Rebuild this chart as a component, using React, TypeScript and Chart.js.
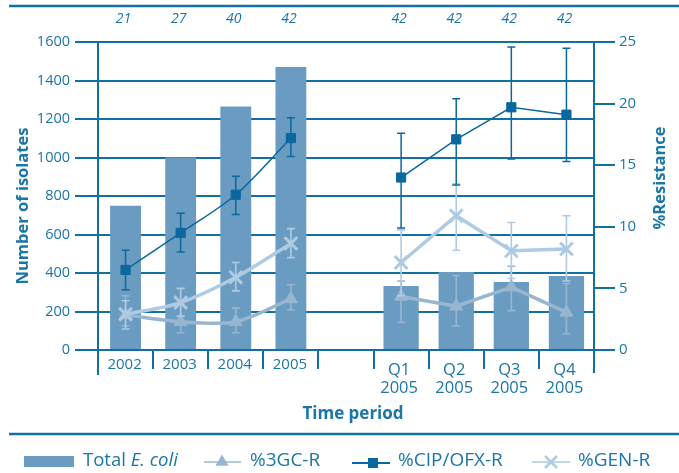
import React, { useEffect, useRef } from "react";
import { Chart, registerables } from "chart.js";

Chart.register(...registerables);

// ---- data ----
const periodLabels: string[][] = [
  ["2002"], ["2003"], ["2004"], ["2005"], [],
  ["Q1", "2005"], ["Q2", "2005"], ["Q3", "2005"], ["Q4", "2005"],
];
const labCounts = ["21", "27", "40", "42", "", "42", "42", "42", "42"];

const totalIsolates = [750, 1000, 1265, 1470, null, 332, 405, 353, 384];

const gcR = [2.85, 2.3, 2.3, 4.15, null, 4.35, 3.55, 5.1, 3.05];
const gcLow = [1.95, 1.4, 1.4, 3.25, null, 2.25, 1.95, 3.2, 1.3];
const gcHigh = [4.4, 3.9, 3.4, 5.3, null, 5.6, 6.05, 6.8, 5.4];

const cipR = [6.5, 9.5, 12.6, 17.2, null, 14.0, 17.1, 19.7, 19.1];
const cipLow = [4.9, 7.95, 11.0, 15.7, null, 9.9, 13.4, 15.5, 15.3];
const cipHigh = [8.1, 11.1, 14.1, 18.85, null, 17.6, 20.4, 24.6, 24.5];

const genR = [2.9, 3.85, 5.9, 8.65, null, 7.1, 10.9, 8.05, 8.2];
const genLow = [1.7, 2.75, 4.8, 7.5, null, 4.4, 8.1, 5.8, 5.6];
const genHigh = [4.0, 5.0, 7.1, 9.85, null, 9.75, 13.5, 10.35, 10.9];

const isolateTicks = { min: 0, max: 1600, step: 200 };
const resistanceTicks = { min: 0, max: 25, step: 5 };

// ---- styling ----
const FONT = "'Open Sans', sans-serif";
const TEXT = "#1a76a8";
const RULE = "#12709f";
const BAR = "#6a9bc0";
const CIP = "#0b689f";
const GEN = "#aecbe3";
const GC = "#98b6cf";

const YEAR_IDX = [0, 1, 2, 3];

// keep only the annual (years) or quarterly part of a series
const part = (arr: (number | null)[], years: boolean) =>
  arr.map((v, i) => (YEAR_IDX.includes(i) === years ? v : null));

const errorSets: Record<string, { low: (number | null)[]; high: (number | null)[]; color: string; width: number }> = {
  "%3GC-R": { low: gcLow, high: gcHigh, color: GC, width: 1.6 },
  "%CIP/OFX-R": { low: cipLow, high: cipHigh, color: CIP, width: 1.5 },
  "%GEN-R": { low: genLow, high: genHigh, color: GEN, width: 1.6 },
};

function drawTriangle(ctx: CanvasRenderingContext2D, x: number, y: number, r: number) {
  ctx.beginPath();
  for (let k = 0; k < 3; k++) {
    const a = (k * 2 * Math.PI) / 3;
    const px = x + Math.sin(a) * r;
    const py = y - Math.cos(a) * r;
    if (k === 0) ctx.moveTo(px, py);
    else ctx.lineTo(px, py);
  }
  ctx.closePath();
  ctx.fill();
}

const decor = {
  id: "decor",
  beforeDatasetDraw(chart: any, args: any) {
    const ds = chart.data.datasets[args.index];
    const err = errorSets[ds.label];
    if (!err) return;
    const xs = chart.scales.x;
    const ys = chart.scales.y1;
    const ctx: CanvasRenderingContext2D = chart.ctx;
    ctx.save();
    ctx.strokeStyle = err.color;
    ctx.lineWidth = err.width;
    err.low.forEach((lo, i) => {
      const hi = err.high[i];
      if (lo == null || hi == null) return;
      const px = xs.getPixelForValue(i);
      const y0 = ys.getPixelForValue(lo);
      const y1 = ys.getPixelForValue(hi);
      ctx.beginPath();
      ctx.moveTo(px, y0);
      ctx.lineTo(px, y1);
      ctx.moveTo(px - 4, y0);
      ctx.lineTo(px + 4, y0);
      ctx.moveTo(px - 4, y1);
      ctx.lineTo(px + 4, y1);
      ctx.stroke();
    });
    ctx.restore();
  },
  afterDraw(chart: any) {
    const ctx: CanvasRenderingContext2D = chart.ctx;
    const xs = chart.scales.x;
    const area = chart.chartArea;
    ctx.save();

    // rules above the chart and above the legend
    ctx.strokeStyle = RULE;
    ctx.lineWidth = 2.5;
    ctx.beginPath();
    ctx.moveTo(9, 6);
    ctx.lineTo(679, 6);
    ctx.moveTo(9, 434);
    ctx.lineTo(679, 434);
    ctx.stroke();

    // outer separators run a little deeper
    ctx.lineWidth = 2;
    ctx.beginPath();
    ctx.moveTo(area.left, area.bottom);
    ctx.lineTo(area.left, area.bottom + 25);
    ctx.moveTo(area.right, area.bottom);
    ctx.lineTo(area.right, area.bottom + 23);
    ctx.stroke();

    ctx.fillStyle = TEXT;
    ctx.textAlign = "center";
    ctx.textBaseline = "middle";

    // number of laboratories above each period
    ctx.font = `italic 14px ${FONT}`;
    labCounts.forEach((t, i) => {
      if (t) ctx.fillText(t, xs.getPixelForValue(i) - 2, 19);
    });

    // period labels
    periodLabels.forEach((lines, i) => {
      const px = xs.getPixelForValue(i);
      if (lines.length === 1) {
        ctx.font = `15px ${FONT}`;
        ctx.fillText(lines[0], px - 1, 365);
      } else if (lines.length === 2) {
        ctx.font = `16.5px ${FONT}`;
        ctx.fillText(lines[0], px - 2, 370);
        ctx.fillText(lines[1], px - 2, 388);
      }
    });

    // axis titles
    ctx.font = `bold 17px ${FONT}`;
    ctx.fillText("Time period", 353, 414);

    ctx.save();
    ctx.translate(23, 206);
    ctx.rotate(-Math.PI / 2);
    ctx.font = `bold 16.5px ${FONT}`;
    ctx.fillText("Number of isolates", 0, 0);
    ctx.restore();

    ctx.save();
    ctx.translate(660, 178);
    ctx.rotate(-Math.PI / 2);
    ctx.font = `bold 16.5px ${FONT}`;
    ctx.fillText("%Resistance", 0, 0);
    ctx.restore();

    // legend
    const ly = 461;
    ctx.textAlign = "left";
    ctx.fillStyle = BAR;
    ctx.fillRect(24, 456, 50, 11);

    ctx.fillStyle = TEXT;
    ctx.font = `18.5px ${FONT}`;
    ctx.fillText("Total ", 83, ly);
    const tw = ctx.measureText("Total ").width;
    ctx.font = `italic 18.5px ${FONT}`;
    ctx.fillText("E. coli", 83 + tw, ly);

    // %3GC-R
    ctx.strokeStyle = GC;
    ctx.lineWidth = 1.5;
    ctx.beginPath();
    ctx.moveTo(204, ly + 1);
    ctx.lineTo(241, ly + 1);
    ctx.stroke();
    ctx.fillStyle = GC;
    drawTriangle(ctx, 222, ly + 1, 7.5);

    // %CIP/OFX-R
    ctx.strokeStyle = CIP;
    ctx.lineWidth = 1.8;
    ctx.beginPath();
    ctx.moveTo(352, ly + 2);
    ctx.lineTo(390, ly + 2);
    ctx.stroke();
    ctx.fillStyle = CIP;
    ctx.fillRect(368, ly - 3, 10, 10);

    // %GEN-R
    ctx.strokeStyle = GEN;
    ctx.lineWidth = 1.5;
    ctx.beginPath();
    ctx.moveTo(532, ly + 1);
    ctx.lineTo(570, ly + 1);
    ctx.stroke();
    ctx.lineWidth = 2.5;
    ctx.beginPath();
    ctx.moveTo(545, ly - 5);
    ctx.lineTo(557, ly + 7);
    ctx.moveTo(557, ly - 5);
    ctx.lineTo(545, ly + 7);
    ctx.stroke();

    ctx.fillStyle = TEXT;
    ctx.font = `19px ${FONT}`;
    ctx.fillText("%3GC-R", 250, ly);
    ctx.fillText("%CIP/OFX-R", 398, ly);
    ctx.fillText("%GEN-R", 578, ly);

    ctx.restore();
  },
};

function lineSet(label: string, values: (number | null)[], years: boolean, color: string, opts: any) {
  return {
    type: "line" as const,
    label: years ? label : label + " Q",
    data: part(values, years),
    yAxisID: "y1",
    borderColor: color,
    backgroundColor: color,
    pointBackgroundColor: color,
    pointBorderColor: color,
    tension: years ? 0.3 : 0,
    spanGaps: false,
    ...opts,
  };
}

export default function App() {
  const ref = useRef<HTMLCanvasElement | null>(null);

  useEffect(() => {
    if (!ref.current) return;
    const gcOpts = { borderWidth: 3.5, pointStyle: "triangle", pointRadius: 7.5, pointBorderWidth: 1, order: 3 };
    const genOpts = { borderWidth: 3.5, pointStyle: "crossRot", pointRadius: 9, pointBorderWidth: 3, order: 2 };
    const cipOpts = { borderWidth: 1.5, pointStyle: "rect", pointRadius: 6.5, pointBorderWidth: 1, order: 1 };

    const chart = new Chart(ref.current, {
      type: "bar",
      data: {
        labels: periodLabels.map((l) => l.join(" ")),
        datasets: [
          {
            type: "bar",
            label: "Total E. coli",
            data: part(totalIsolates, true),
            backgroundColor: BAR,
            yAxisID: "y",
            barPercentage: 0.56,
            categoryPercentage: 1,
            grouped: false,
            order: 11,
          },
          {
            type: "bar",
            label: "Total E. coli Q",
            data: part(totalIsolates, false),
            backgroundColor: BAR,
            yAxisID: "y",
            barPercentage: 0.64,
            categoryPercentage: 1,
            grouped: false,
            order: 10,
          },
          lineSet("%3GC-R", gcR, true, GC, gcOpts),
          lineSet("%3GC-R", gcR, false, GC, gcOpts),
          lineSet("%GEN-R", genR, true, GEN, genOpts),
          lineSet("%GEN-R", genR, false, GEN, genOpts),
          lineSet("%CIP/OFX-R", cipR, true, CIP, cipOpts),
          lineSet("%CIP/OFX-R", cipR, false, CIP, cipOpts),
        ] as any,
      },
      options: {
        responsive: false,
        animation: false,
        devicePixelRatio: 1,
        layout: { padding: { top: 42, left: 0, right: 0, bottom: 0 } },
        plugins: { legend: { display: false }, tooltip: { enabled: false } },
        scales: {
          x: {
            offset: true,
            afterFit: (s: any) => {
              s.height = 123;
            },
            grid: {
              offset: true,
              drawOnChartArea: false,
              drawTicks: true,
              tickLength: 19,
              lineWidth: 2,
              color: RULE,
            },
            border: { display: true, color: RULE, width: 2 },
            ticks: { display: false },
          },
          y: {
            position: "left",
            min: isolateTicks.min,
            max: isolateTicks.max,
            afterFit: (s: any) => {
              s.width = 98;
            },
            ticks: {
              stepSize: isolateTicks.step,
              color: TEXT,
              padding: 5,
              font: { family: FONT, size: 14.5 },
              callback: (v: any) => String(v),
            },
            grid: { color: RULE, lineWidth: 2, tickLength: 23, drawTicks: true },
            border: { display: true, color: RULE, width: 2 },
          },
          y1: {
            position: "right",
            min: resistanceTicks.min,
            max: resistanceTicks.max,
            afterFit: (s: any) => {
              s.width = 85;
            },
            ticks: {
              stepSize: resistanceTicks.step,
              color: TEXT,
              padding: 4,
              font: { family: FONT, size: 15 },
              callback: (v: any) => String(v),
            },
            grid: { drawOnChartArea: false, color: RULE, lineWidth: 2, tickLength: 21, drawTicks: true },
            border: { display: true, color: RULE, width: 2 },
          },
        },
      } as any,
      plugins: [decor],
    });
    return () => chart.destroy();
  }, []);

  return (
    <div style={{ position: "absolute", left: 0, top: 0, width: 679, height: 473, background: "#fff" }}>
      <canvas ref={ref} width={679} height={473} style={{ display: "block" }} />
    </div>
  );
}
